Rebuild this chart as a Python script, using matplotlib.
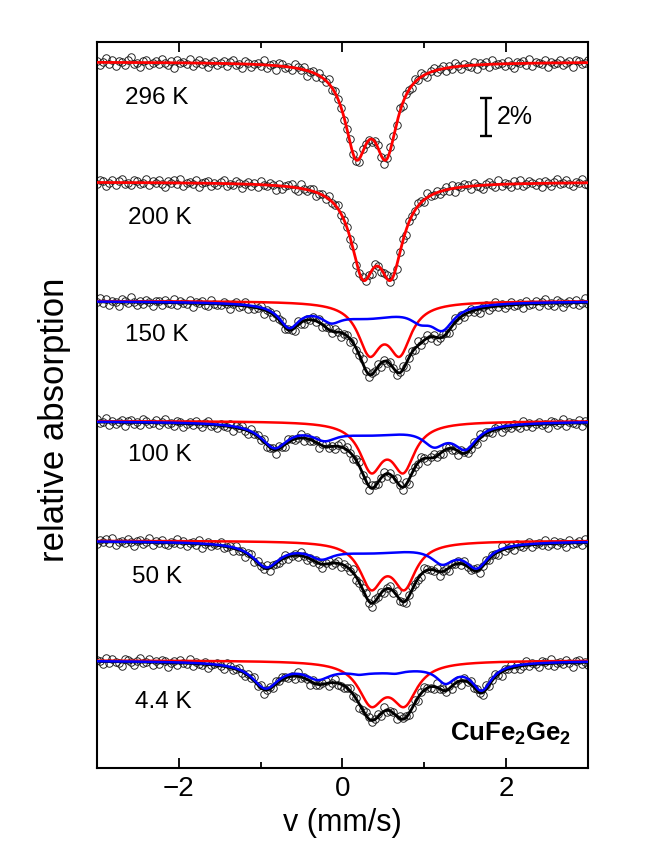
import numpy as np
import matplotlib
matplotlib.use('Agg')
from matplotlib import pyplot

pyplot.rcParams['font.family'] = ['Liberation Sans', 'DejaVu Sans']
pyplot.rcParams['mathtext.fontset'] = 'custom'
pyplot.rcParams['mathtext.rm'] = 'Liberation Sans'
pyplot.rcParams['mathtext.bf'] = 'Liberation Sans:bold'

temps = ['296 K', '200 K', '150 K', '100 K', '50 K', '4.4 K']
offsets = [0.0, -6.32, -12.58, -18.9, -25.2, -31.5]   # baseline of each spectrum, %

# paramagnetic doublet (red): line centres (mm/s), half width, depth per line (%)
dbl_pos = [[0.167, 0.533], [0.248, 0.594], [0.33, 0.70], [0.35, 0.744], [0.35, 0.756], [0.35, 0.756]]
dbl_hw = [0.17, 0.18, 0.17, 0.17, 0.17, 0.19]
dbl_depth = [4.38, 4.25, 2.50, 2.38, 2.27, 2.08]

# magnetic component (blue), only from 150 K down
mag_pos = [[], [],
           [0.3, -0.65, -0.14, 0.95, 1.22],
           [0.35, -0.83, -0.22, 1.12, 1.5],
           [0.35, -0.93, -0.26, 1.22, 1.64],
           [0.38, -0.94, -0.3, 0.2, 0.65, 1.26, 1.70]]
mag_hw = [[], [],
          [0.6, 0.15, 0.15, 0.15, 0.17],
          [0.7, 0.2, 0.18, 0.17, 0.17],
          [0.75, 0.2, 0.18, 0.17, 0.17],
          [0.75, 0.2, 0.18, 0.1, 0.1, 0.14, 0.15]]
mag_depth = [[], [],
             [0.8, 1.15, 0.55, 0.55, 1.2],
             [0.62, 1.22, 0.55, 0.9, 1.2],
             [0.55, 1.22, 0.55, 0.85, 1.2],
             [0.55, 1.3, 0.6, 0.1, 0.1, 0.85, 1.37]]

# scatter of the measured points about the fit (units of 0.07 %)
res_296 = [1,-2,0,3,-1,2,-3,1,0,-2,2,4,-1,0,-3,1,2,-2,0,1,
           -1,3,0,-2,1,-4,2,0,1,-1,3,-2,0,2,-1,1,-3,0,2,-1,
           0,2,-2,1,3,-1,0,-3,2,1,-2,0,1,-1,4,-2,0,1,-3,2,
           2,-1,0,-2,3,1,-1,2,-4,0,1,-2,2,0,-1,3,-2,1,0,-1,
           -2,1,3,0,-1,-3,2,1,0,-2,1,2,-1,-3,0,2,1,-1,3,-2,
           1,0,-2,2,-1,3,0,-3,1,2,-1,0,2,-2,1,-1,3,0,-2,1,
           0,-1,2,-3,1,0,2,-2,3,-1,0,1,-2,2,-1,-3,1,0,2,-1,
           3,-2,1,0,-1,2,-3,1,-1,0,2,-2,0,1,-3,2,1,-1,0,2]
res_200 = [-1,2,1,-3,0,2,-2,1,3,-1,0,-2,2,1,-1,0,3,-2,1,0,
           2,-1,-3,1,0,2,-1,3,-2,0,1,-1,2,-3,0,1,2,-2,0,-1,
           1,3,-2,0,-1,2,1,-3,0,2,-1,1,-2,3,0,-1,2,0,-3,1,
           -2,0,1,2,-1,-2,3,0,-1,1,2,-3,0,1,-2,2,-1,0,3,-1,
           0,1,-1,3,-2,0,2,-1,1,-3,2,0,-2,1,3,-1,0,-2,1,2,
           -3,1,0,-1,2,1,-2,3,0,-1,1,-2,0,2,-1,3,-3,1,0,2,
           1,-2,2,0,-1,-3,1,2,0,-2,3,-1,1,0,-2,2,-1,3,-2,0,
           2,0,-1,1,-3,2,0,-2,1,3,-1,0,2,-1,-2,1,0,3,-1,-2]
res_150 = [0,3,-1,2,-2,1,0,-3,2,1,-1,4,0,-2,1,-1,2,0,-3,1,
           1,-2,2,0,-1,3,-2,1,0,-1,2,-3,1,0,2,-1,-2,3,0,-1,
           -1,2,0,-3,1,2,-1,0,3,-2,1,-1,0,2,-3,1,0,-2,2,1,
           2,-1,1,0,-2,3,-1,-2,1,0,2,-1,3,-2,0,1,-1,2,0,-3,
           0,1,-2,2,-1,0,3,-1,-2,1,0,2,-3,1,-1,2,0,-2,1,3,
           -2,0,1,-1,3,-2,0,2,-1,1,-3,0,2,1,-2,0,3,-1,1,-2,
           1,2,-1,0,-3,1,2,-2,0,3,-1,1,-2,0,2,-1,0,1,-3,2,
           -1,0,2,-2,1,3,-1,0,-2,2,1,-3,0,1,-1,2,-2,0,3,-1]
res_100 = [2,-1,0,3,-2,1,-1,0,2,-3,1,2,-1,0,-2,3,1,-1,0,2,
           -2,1,3,-1,0,-2,2,1,-3,0,1,-1,2,0,-2,1,3,-1,0,-2,
           1,0,-1,2,-3,1,0,2,-1,-2,3,0,1,-1,2,-2,0,1,-3,2,
           0,-2,2,1,-1,0,3,-2,1,-1,0,2,-3,1,2,-1,0,-2,1,3,
           -1,2,0,-2,1,3,-1,0,-3,2,1,-1,0,2,-2,1,-1,3,0,-2,
           2,-3,1,0,-1,2,0,-2,1,3,-1,0,-2,2,1,-1,0,-3,2,1,
           -1,0,2,-2,3,-1,1,0,-2,1,2,-3,0,1,-1,2,0,-2,3,-1,
           1,-2,0,2,-1,0,-3,2,1,-1,0,3,-2,1,0,-1,2,-2,1,0]
res_50 = [-2,1,0,2,-1,3,-2,0,1,-1,2,0,-3,1,2,-1,0,3,-2,1,
          0,2,-1,-2,1,0,3,-1,2,-2,0,1,-1,3,-3,0,2,-1,1,0,
          3,-1,0,1,-2,2,-1,0,-3,1,2,-2,1,0,-1,3,-2,1,0,-1,
          -1,2,-2,0,1,-1,3,0,-2,1,-1,2,0,-3,1,2,-1,0,2,-2,
          1,0,-1,3,-2,0,1,2,-1,-3,2,0,1,-2,0,2,-1,3,-1,0,
          -2,1,2,0,-1,-2,3,1,0,-1,2,-3,0,1,-2,1,0,2,-1,3,
          0,-1,1,2,-3,0,2,-1,1,0,-2,3,-1,0,1,-2,2,0,-1,1,
          2,-2,0,1,-1,3,-2,0,2,-1,1,0,-3,2,-1,0,1,-2,3,0]
res_4 = [1,0,-2,3,-1,2,0,-1,-3,2,1,0,-2,1,3,-1,0,2,-2,1,
         -1,2,1,-3,0,1,-2,2,0,-1,3,-2,1,0,-1,2,-3,0,1,2,
         0,-2,3,1,-1,0,2,-1,-2,1,0,3,-1,2,-3,0,1,-1,2,0,
         2,1,-1,0,-2,3,-1,1,0,-3,2,-1,0,1,2,-2,0,3,-1,-1,
         -2,0,2,-1,1,-3,0,2,1,-1,0,2,-2,3,-1,0,1,-2,2,1,
         1,-1,0,2,-3,1,2,0,-1,-2,3,0,1,-1,2,-2,0,1,-3,2,
         0,2,-1,1,0,-2,3,-1,0,2,-1,-3,1,0,2,-1,1,-2,0,3,
         -1,1,0,-2,2,1,-1,3,-2,0,1,-1,2,0,-3,1,2,-1,0,-2]
residuals = [res_296, res_200, res_150, res_100, res_50, res_4]

# where the temperature labels sit (data units)
label_x = [-2.66, -2.62, -2.66, -2.62, -2.57, -2.54]
label_y = [-1.89, -8.21, -14.37, -20.68, -27.1, -33.68]


def lorentz_sum(v, pos, hw, depth):
	out = np.zeros_like(v)
	for c, g, a in zip(pos, hw, depth):
		out += a * g**2 / ((v - c)**2 + g**2)
	return out


v_chan = np.linspace(-3, 3, len(res_296))
v_fine = np.linspace(-3, 3, 800)

fig = pyplot.figure(figsize=(6.54, 8.55), dpi=100)
ax = fig.add_axes([0.1483, 0.1018, 0.7508, 0.8491])

for i in range(len(temps)):
	hw2 = [dbl_hw[i], dbl_hw[i]]
	dep2 = [dbl_depth[i], dbl_depth[i]]
	d_chan = lorentz_sum(v_chan, dbl_pos[i], hw2, dep2) + lorentz_sum(v_chan, mag_pos[i], mag_hw[i], mag_depth[i])
	pts = offsets[i] - d_chan + 0.07 * np.array(residuals[i])
	ax.plot(v_chan, pts, 'o', mfc='none', mec='#1a1a1a', ms=5.4, mew=0.65, zorder=2)

	red = offsets[i] - lorentz_sum(v_fine, dbl_pos[i], hw2, dep2)
	if len(mag_pos[i]) > 0:
		blue = offsets[i] - lorentz_sum(v_fine, mag_pos[i], mag_hw[i], mag_depth[i])
		total = red + blue - offsets[i]
		ax.plot(v_fine, total, color='k', lw=2.0, zorder=3)
		ax.plot(v_fine, red, color='#ff0000', lw=1.8, zorder=4)
		ax.plot(v_fine, blue, color='#0000ff', lw=1.8, zorder=5)
	else:
		ax.plot(v_fine, red, color='#ff0000', lw=2.0, zorder=4)

	ax.text(label_x[i], label_y[i], temps[i], fontsize=17.5, ha='left', va='center')

# 2% scale bar
ax.errorbar(1.75, -2.89, yerr=1.0, color='k', elinewidth=1.7, capsize=4, capthick=1.7)
ax.text(1.89, -2.89, '2%', fontsize=18, ha='left', va='center')
ax.text(2.79, -35.75, r'$\mathbf{CuFe_2Ge_2}$', fontsize=18.5, ha='right', va='baseline')

ax.set_xlim(-3, 3)
ax.set_ylim(-37.16, 1.05)
ax.set_xticks([-2, 0, 2])
ax.set_xticks([-1, 1], minor=True)
ax.set_yticks([])
ax.tick_params(which='both', direction='in', top=True, width=1.3, labelsize=20, pad=6)
ax.tick_params(which='major', length=7.5)
ax.tick_params(which='minor', length=4)
for s in ax.spines.values():
	s.set_linewidth(1.5)

ax.set_xlabel('v (mm/s)', fontsize=22, labelpad=4)
ax.set_ylabel('relative absorption', fontsize=25)
ax.yaxis.set_label_coords(-0.052, 0.48)

pyplot.savefig('out.png', dpi=100)
